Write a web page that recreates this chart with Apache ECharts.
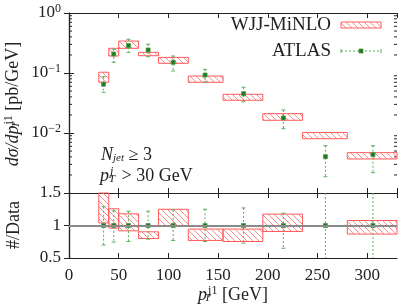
<!DOCTYPE html>
<html><head><meta charset="utf-8">
<script src="https://cdn.jsdelivr.net/npm/echarts@6/dist/echarts.min.js"></script>
<style>html,body{margin:0;padding:0;background:#fff}#c{width:399px;height:304px}</style>
</head><body><div id="c"></div>
<script>
// ---- data ----
const binLo   = [30, 40, 50, 70, 90, 120, 155, 195, 235, 280];
const binHi   = [40, 50, 70, 90, 120, 155, 195, 235, 280, 360];
const mcLow   = [0.070, 0.192, 0.258, 0.194, 0.145, 0.070, 0.0351, 0.0163, 0.00803, 0.00369];
const mcHigh  = [0.103, 0.258, 0.341, 0.221, 0.182, 0.089, 0.0442, 0.0210, 0.0102, 0.0047];
const dataX   = [34.8, 45, 59.8, 79.6, 104.8, 136.9, 175.6, 215.7, 258, 305.8];
const dataY   = [0.065, 0.207, 0.286, 0.242, 0.151, 0.0926, 0.0452, 0.0178, 0.00403, 0.00436];
const dataLo  = [0.0477, 0.151, 0.221, 0.187, 0.108, 0.0708, 0.0332, 0.0118, 0.00187, 0.00218];
const dataHi  = [0.0868, 0.251, 0.365, 0.301, 0.192, 0.115, 0.0578, 0.0242, 0.00614, 0.00614];
const ratioMcLow  = [1.04, 0.96, 0.918, 0.80, 1.00, 0.77, 0.754, 0.908, 1.99, 0.868];
const ratioMcHigh = [1.58, 1.257, 1.18, 0.903, 1.25, 0.945, 0.945, 1.175, 2.53, 1.077];
const ratioData   = [1, 1, 1, 1, 1, 1, 1, 1, 1, 1];
const ratioErrLo  = [0.70, 0.745, 0.754, 0.79, 0.77, 0.754, 0.73, 0.65, 0.40, 0.40];
const ratioErrHi  = [1.29, 1.225, 1.22, 1.22, 1.24, 1.25, 1.27, 1.19, 1.60, 1.60];
const xTicks = [0, 50, 100, 150, 200, 250, 300];
const logMinor = [0.002,0.003,0.004,0.005,0.006,0.007,0.008,0.009,
                  0.02,0.03,0.04,0.05,0.06,0.07,0.08,0.09,
                  0.2,0.3,0.4,0.5,0.6,0.7,0.8,0.9];

const FONT = 'Liberation Serif';
const TXT = '#222';
const RED = '#ff5a5a';
const GREEN_D = '#1f7a1f';
const GREEN_L = '#5cad5c';

function makeHatch() {
  const c = document.createElement('canvas');
  c.width = 6; c.height = 6;
  const g = c.getContext('2d');
  g.strokeStyle = '#ff8a8a';
  g.lineWidth = 1;
  g.beginPath();
  g.moveTo(-1, -1); g.lineTo(7, 7);
  g.moveTo(-1, 5); g.lineTo(1, 7);
  g.moveTo(5, -1); g.lineTo(7, 1);
  g.stroke();
  return c;
}
const HATCH = makeHatch();

const chart = echarts.init(document.getElementById('c'), null, {renderer: 'canvas'});

const G0 = {left: 69, top: 13, width: 328, height: 180};
const G1 = {left: 69, top: 193, width: 328, height: 65};

function boxItem(params, api) {
  const p0 = api.coord([api.value(0), api.value(3)]);
  const p1 = api.coord([api.value(1), api.value(2)]);
  const cs = params.coordSys;
  const r = echarts.graphic.clipRectByRect(
    {x: p0[0], y: p0[1], width: p1[0] - p0[0], height: p1[1] - p0[1]},
    {x: cs.x, y: cs.y, width: cs.width, height: cs.height});
  if (!r || r.height <= 0 || r.width <= 0) return;
  return {type: 'rect', shape: r,
    style: {fill: {image: HATCH, repeat: 'repeat'}, stroke: RED, lineWidth: 1}};
}

function errItem(params, api) {
  const x = api.value(0);
  const c = api.coord([x, api.value(1)]);
  const lo = api.coord([x, api.value(2)]);
  const hi = api.coord([x, api.value(3)]);
  const cs = params.coordSys;
  const top = Math.max(hi[1], cs.y), bot = Math.min(lo[1], cs.y + cs.height);
  const ch = [
    {type: 'line', shape: {x1: c[0], y1: top, x2: c[0], y2: bot},
     style: {stroke: GREEN_L, lineWidth: 1, lineDash: [2, 2]}}
  ];
  if (hi[1] >= cs.y) ch.push({type: 'line', shape: {x1: c[0] - 2, y1: hi[1], x2: c[0] + 2, y2: hi[1]}, style: {stroke: GREEN_L, lineWidth: 1}});
  if (lo[1] <= cs.y + cs.height) ch.push({type: 'line', shape: {x1: c[0] - 2, y1: lo[1], x2: c[0] + 2, y2: lo[1]}, style: {stroke: GREEN_L, lineWidth: 1}});
  ch.push({type: 'rect', shape: {x: c[0] - 2, y: c[1] - 2, width: 4, height: 4},
    style: {fill: GREEN_D, stroke: '#4a9a4a', lineWidth: 0.8}});
  return {type: 'group', children: ch};
}

function minorItem(params, api) {
  const cs = params.coordSys;
  const p = api.coord([0, api.value(0)]);
  return {type: 'group', children: [
    {type: 'line', shape: {x1: cs.x, y1: p[1], x2: cs.x + 3, y2: p[1]}, style: {stroke: TXT, lineWidth: 1}},
    {type: 'line', shape: {x1: cs.x + cs.width - 3, y1: p[1], x2: cs.x + cs.width, y2: p[1]}, style: {stroke: TXT, lineWidth: 1}}
  ]};
}

const axLine = {show: true, lineStyle: {color: TXT, width: 1.2}};
const tickIn = {show: true, inside: true, length: 5, lineStyle: {color: TXT, width: 1}};
const labStyle = {fontFamily: FONT, fontSize: 17, color: TXT};

function xAx(gi, pos, showLabel) {
  return {type: 'value', gridIndex: gi, position: pos, min: 0, max: 330, interval: 50,
    axisLine: axLine, axisTick: tickIn, splitLine: {show: false},
    axisLabel: showLabel ? Object.assign({show: true, margin: 9, showMaxLabel: false,
      formatter: v => (xTicks.indexOf(v) >= 0 ? String(v) : '')}, labStyle) : {show: false}};
}

// rich styles for math-like text (subscript stacked under superscript)
const RICH = {
  i: {fontFamily: FONT, fontSize: 18, fontStyle: 'italic', fill: TXT},
  s: {fontFamily: FONT, fontSize: 11, fontStyle: 'italic', fill: TXT, padding: [6, 0, 0, 0]},
  z: {fontFamily: FONT, fontSize: 11, fontStyle: 'italic', fill: TXT, padding: [6, 0, 0, 0], width: 1},
  u: {fontFamily: FONT, fontSize: 12, fill: TXT, padding: [0, 0, 9, 0]},
  uj: {fontFamily: FONT, fontSize: 12, fontStyle: 'italic', fill: TXT, padding: [0, 0, 9, 0], width: 7}
};

const option = {
  animation: false,
  backgroundColor: '#fff',
  grid: [G0, G1],
  xAxis: [xAx(0, 'bottom', false), xAx(0, 'top', false), xAx(1, 'bottom', true), xAx(1, 'top', false)],
  yAxis: [
    {type: 'log', logBase: 10, gridIndex: 0, position: 'left', min: 0.001, max: 1,
     axisLine: axLine, axisTick: tickIn, splitLine: {show: false},
     axisLabel: Object.assign({margin: 8, formatter: v => {
        const e = Math.round(Math.log10(v));
        if (e <= -3) return '';
        return '10{s|' + (e < 0 ? '\u2212' + (-e) : e) + '}';
      }, rich: {s: {fontFamily: FONT, fontSize: 12, color: TXT, padding: [0, 0, 9, 0]}}}, labStyle)},
    {type: 'log', logBase: 10, gridIndex: 0, position: 'right', min: 0.001, max: 1,
     axisLine: axLine, axisTick: tickIn, splitLine: {show: false}, axisLabel: {show: false}},
    {type: 'value', gridIndex: 1, position: 'left', min: 0.5, max: 1.5, interval: 0.5,
     axisLine: axLine, axisTick: tickIn, splitLine: {show: false},
     axisLabel: Object.assign({margin: 8, formatter: v => String(v)}, labStyle)},
    {type: 'value', gridIndex: 1, position: 'right', min: 0.5, max: 1.5, interval: 0.5,
     axisLine: axLine, axisTick: tickIn, splitLine: {show: false}, axisLabel: {show: false}}
  ],
  series: [
    {type: 'custom', name: 'minor', xAxisIndex: 0, yAxisIndex: 0, silent: true,
     data: logMinor.map(v => [v]), encode: {y: 0}, renderItem: minorItem},
    {type: 'custom', name: 'WJJ-MiNLO', xAxisIndex: 0, yAxisIndex: 0,
     data: binLo.map((lo, i) => [lo, binHi[i], mcLow[i], mcHigh[i]]),
     encode: {x: [0, 1], y: [2, 3]}, renderItem: boxItem},
    {type: 'custom', name: 'ATLAS', xAxisIndex: 0, yAxisIndex: 0,
     data: dataX.map((x, i) => [x, dataY[i], dataLo[i], dataHi[i]]),
     encode: {x: 0, y: [1, 2, 3]}, renderItem: errItem, z: 3},
    {type: 'line', name: 'unity', xAxisIndex: 2, yAxisIndex: 2, data: [], symbol: 'none',
     markLine: {silent: true, symbol: 'none', label: {show: false},
       lineStyle: {color: '#8a8a8a', width: 2, type: 'solid'}, data: [{yAxis: 1}]}, z: 1},
    {type: 'custom', name: 'ratioMC', xAxisIndex: 2, yAxisIndex: 2,
     data: binLo.map((lo, i) => [lo, binHi[i], ratioMcLow[i], ratioMcHigh[i]]),
     encode: {x: [0, 1], y: [2, 3]}, renderItem: boxItem, z: 2},
    {type: 'custom', name: 'ratioData', xAxisIndex: 2, yAxisIndex: 2,
     data: dataX.map((x, i) => [x, ratioData[i], ratioErrLo[i], ratioErrHi[i]]),
     encode: {x: 0, y: [1, 2, 3]}, renderItem: errItem, z: 3}
  ],
  graphic: [
    {type: 'text', x: 13, y: 104, rotation: Math.PI / 2,
     style: {text: '{i|d\u03c3/dp}{z|T}{u|j1} [pb/GeV]', align: 'center', verticalAlign: 'middle',
       fontFamily: FONT, fontSize: 18, fill: TXT, rich: RICH}},
    {type: 'text', x: 14, y: 225, rotation: Math.PI / 2,
     style: {text: '#/Data', align: 'center', verticalAlign: 'middle', fontFamily: FONT, fontSize: 18, fill: TXT}},
    {type: 'text', x: 233, y: 295,
     style: {text: '{i|p}{z|T}{u|j1} [GeV]', align: 'center', verticalAlign: 'middle',
       fontFamily: FONT, fontSize: 18, fill: TXT, rich: RICH}},
    {type: 'text', x: 101, y: 155,
     style: {text: '{i|N}{s|jet} \u2265 3', align: 'left', verticalAlign: 'middle',
       fontFamily: FONT, fontSize: 18, fill: TXT, rich: RICH}},
    {type: 'text', x: 100, y: 176,
     style: {text: '{i|p}{z|T}{uj|j} > 30 GeV', align: 'left', verticalAlign: 'middle',
       fontFamily: FONT, fontSize: 18, fill: TXT, rich: RICH}},
    {type: 'text', x: 331, y: 25,
     style: {text: 'WJJ-MiNLO', align: 'right', verticalAlign: 'middle', fontFamily: FONT, fontSize: 19, fill: TXT}},
    {type: 'rect', shape: {x: 341, y: 22, width: 40, height: 6},
     style: {fill: {image: HATCH, repeat: 'repeat'}, stroke: RED, lineWidth: 1}},
    {type: 'text', x: 331, y: 51,
     style: {text: 'ATLAS', align: 'right', verticalAlign: 'middle', fontFamily: FONT, fontSize: 19, fill: TXT}},
    {type: 'line', shape: {x1: 341, y1: 51, x2: 381, y2: 51}, style: {stroke: GREEN_L, lineWidth: 1, lineDash: [2, 2]}},
    {type: 'line', shape: {x1: 341, y1: 49, x2: 341, y2: 53}, style: {stroke: GREEN_L, lineWidth: 1}},
    {type: 'line', shape: {x1: 381, y1: 49, x2: 381, y2: 53}, style: {stroke: GREEN_L, lineWidth: 1}},
    {type: 'rect', shape: {x: 359, y: 49, width: 4, height: 4}, style: {fill: GREEN_D, stroke: '#4a9a4a', lineWidth: 0.8}}
  ]
};
chart.setOption(option);
</script>
</body></html>
